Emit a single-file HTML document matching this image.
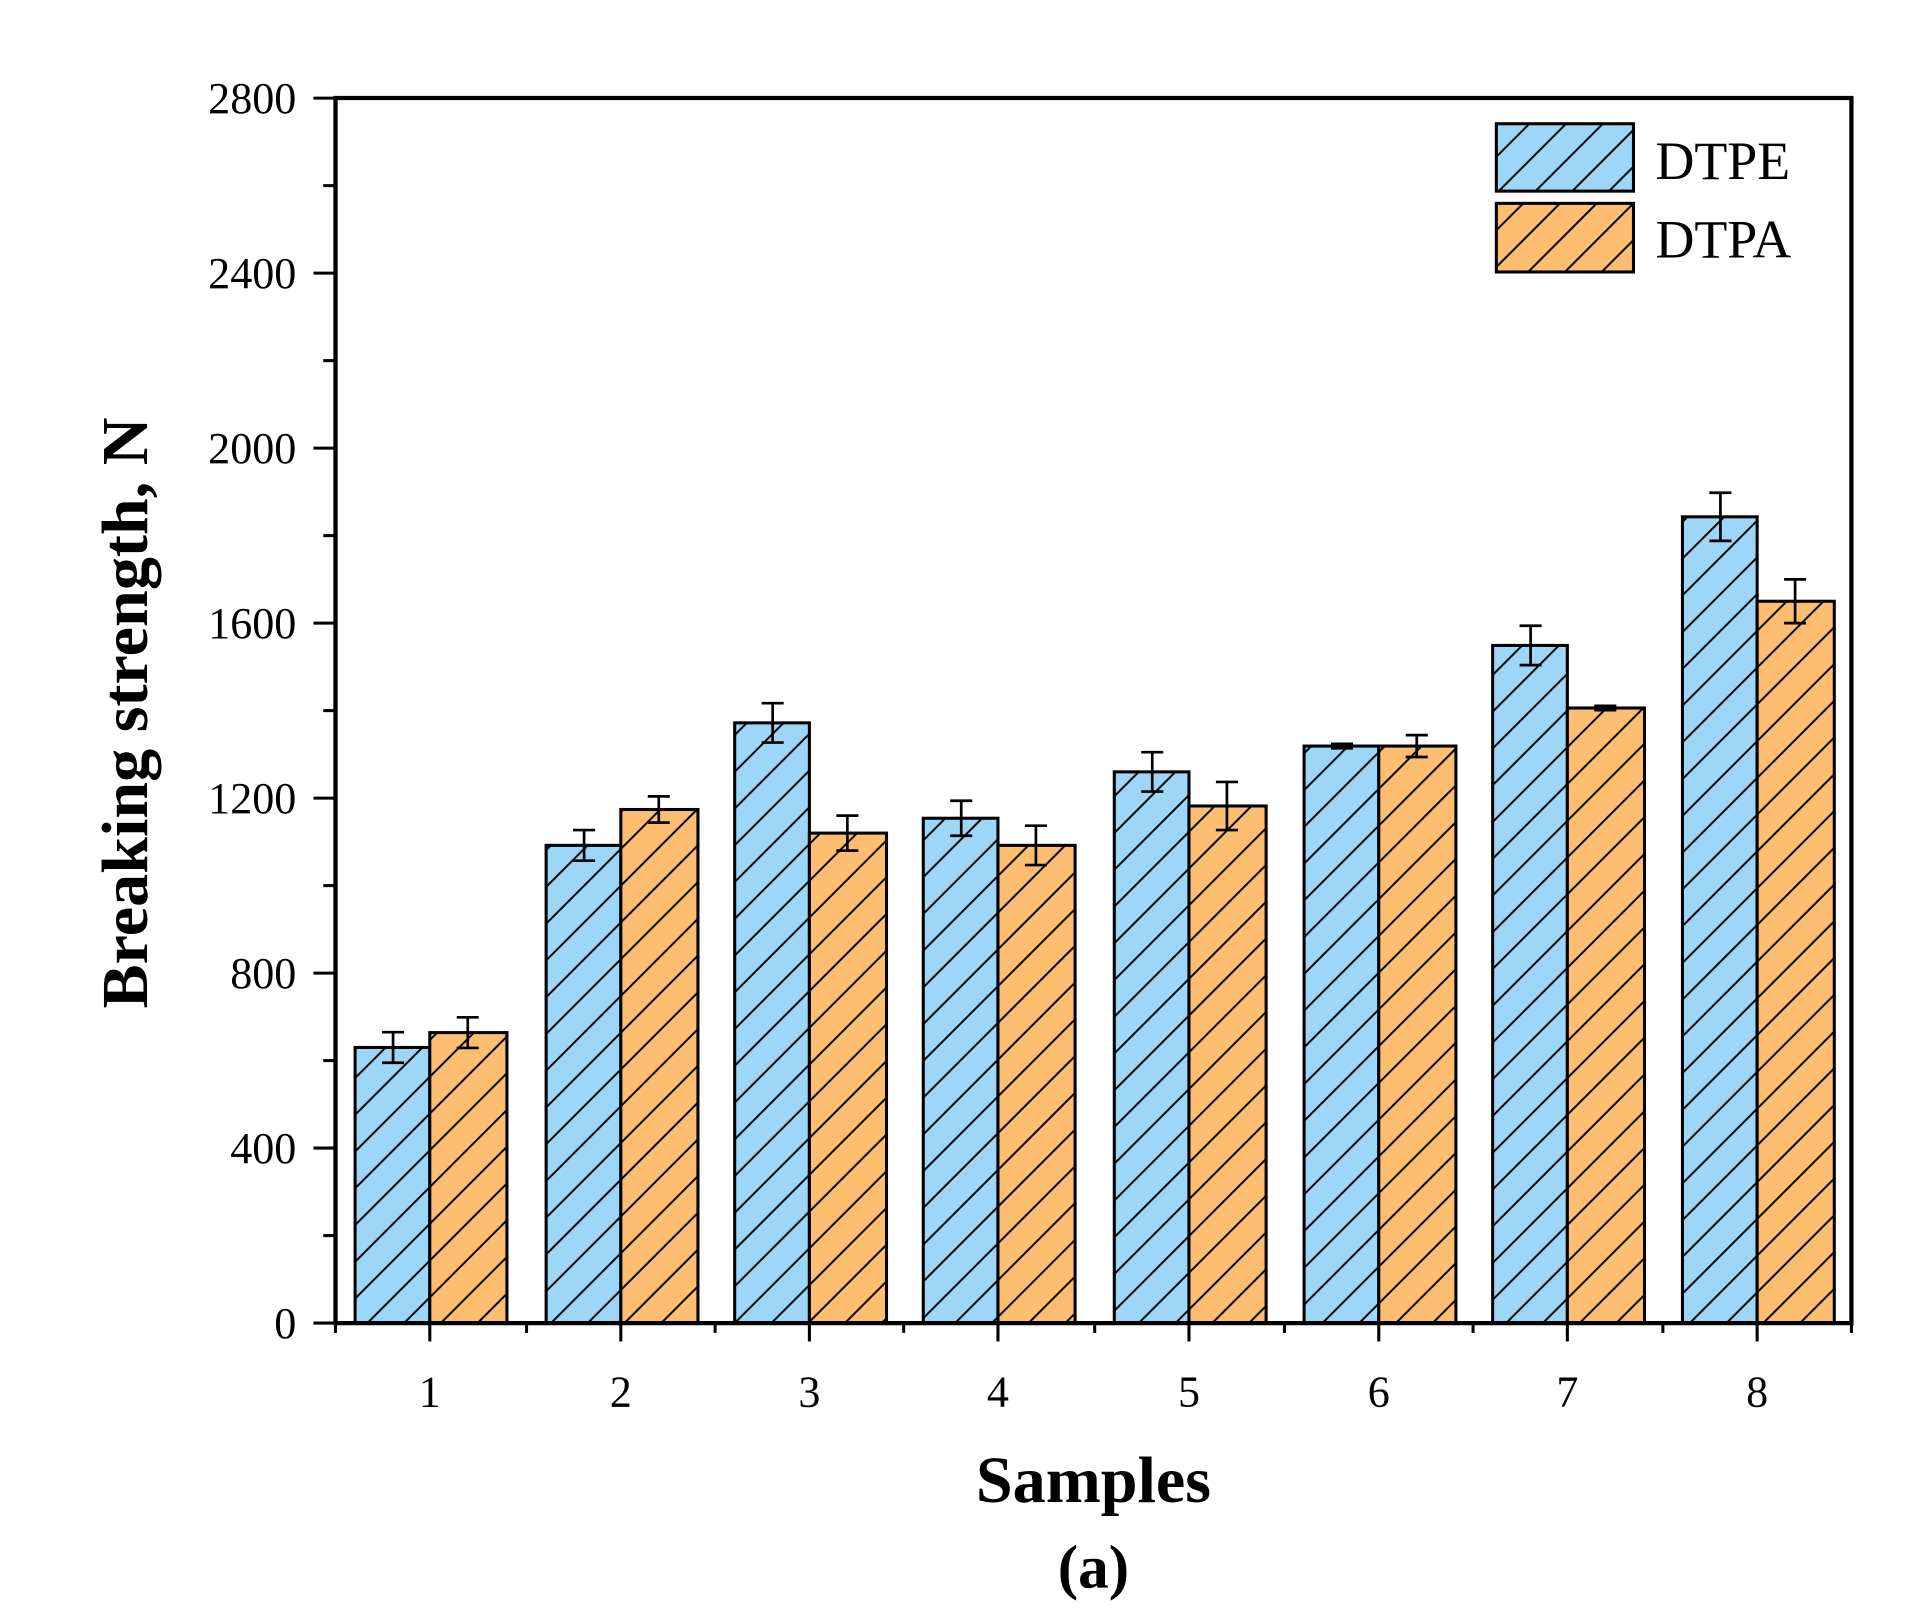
<!DOCTYPE html>
<html><head><meta charset="utf-8"><style>
html,body{margin:0;padding:0;background:#fff;}
svg{display:block;}
text{font-family:"Liberation Serif",serif;}
</style></head><body>
<svg width="1920" height="1622" viewBox="0 0 1568 1324" preserveAspectRatio="none" xmlns="http://www.w3.org/2000/svg">
<defs>
<pattern id="hb" patternUnits="userSpaceOnUse" width="30" height="30">
<rect width="30" height="30" fill="#9dd6f7"/>
<path d="M-7,7 L7,-7 M0,30 L30,0 M23,37 L37,23" stroke="#000" stroke-width="1.6"/>
</pattern>
<pattern id="ho" patternUnits="userSpaceOnUse" width="30" height="30">
<rect width="30" height="30" fill="#fdbe72"/>
<path d="M-7,7 L7,-7 M0,30 L30,0 M23,37 L37,23" stroke="#000" stroke-width="1.6"/>
</pattern>
</defs>
<rect width="1568" height="1324" fill="#fff"/>
<g id="bars"></g>
<g stroke="#000" stroke-width="2.5" fill="none">
<path d="M274,80 H1512 V1080 H274 Z" stroke-width="3.5"/>
</g>
<g id="ax" stroke="#000" stroke-width="2.5"></g>
<g id="lab" font-size="36" fill="#000"></g>
<text x="120" y="582" font-size="54" font-weight="bold" text-anchor="middle" transform="rotate(-90 120 582)">Breaking strength, N</text>
<text x="893" y="1226" font-size="54" font-weight="bold" text-anchor="middle">Samples</text>
<text x="893" y="1296" font-size="50" font-weight="bold" text-anchor="middle">(a)</text>
<rect x="1222" y="101" width="112" height="55" fill="url(#hb)" stroke="#000" stroke-width="2.5"/>
<rect x="1222" y="166" width="112" height="56" fill="url(#ho)" stroke="#000" stroke-width="2.5"/>
<text x="1352" y="146" font-size="44">DTPE</text>
<text x="1352" y="210" font-size="44">DTPA</text>
<script>
var ns="http://www.w3.org/2000/svg";
function el(p,t,a,txt){var e=document.createElementNS(ns,t);for(var k in a)e.setAttribute(k,a[k]);if(txt!==undefined)e.textContent=txt;p.appendChild(e);return e;}
var bars=document.getElementById('bars'),ax=document.getElementById('ax'),lab=document.getElementById('lab');
var y0=1080,s=0.3571;function Y(v){return y0-v*s;}
var c=[351,507,661,815,971,1126,1280,1435];
var E=[630,1092,1372,1154,1260,1319,1549,1843],A=[664,1174,1120,1092,1182,1319,1406,1650];
var eE=[35,35,45,40,45,5,45,55],eA=[35,30,40,45,55,25,5,50];
for(var i=0;i<8;i++){
 el(bars,'rect',{x:c[i]-61,y:Y(E[i]),width:61,height:E[i]*s,fill:'url(#hb)',stroke:'#000','stroke-width':2.5});
 el(bars,'rect',{x:c[i],y:Y(A[i]),width:63,height:A[i]*s,fill:'url(#ho)',stroke:'#000','stroke-width':2.5});
 [[c[i]-30,E[i],eE[i]],[c[i]+31,A[i],eA[i]]].forEach(function(q){
  var yt=Y(q[1]+q[2]),yb=Y(q[1]-q[2]);
  el(bars,'path',{d:'M'+q[0]+','+yt+'V'+yb+'M'+(q[0]-9)+','+yt+'H'+(q[0]+9)+'M'+(q[0]-9)+','+yb+'H'+(q[0]+9),stroke:'#000','stroke-width':2.2,fill:'none'});
 });
 el(ax,'line',{x1:c[i],y1:1080,x2:c[i],y2:1095});
 el(ax,'line',{x1:c[i]-77,y1:1080,x2:c[i]-77,y2:1088});
 el(lab,'text',{x:c[i],y:1148,'text-anchor':'middle'},String(i+1));
}
el(ax,'line',{x1:1512,y1:1080,x2:1512,y2:1088});
for(var v=0;v<=2800;v+=200){
 var y=Y(v),L=(v%400==0)?18:10;
 el(ax,'line',{x1:274-L,y1:y,x2:274,y2:y});
 if(v%400==0)el(lab,'text',{x:242,y:y+12,'text-anchor':'end'},String(v));
}
</script>
</svg>
</body></html>
